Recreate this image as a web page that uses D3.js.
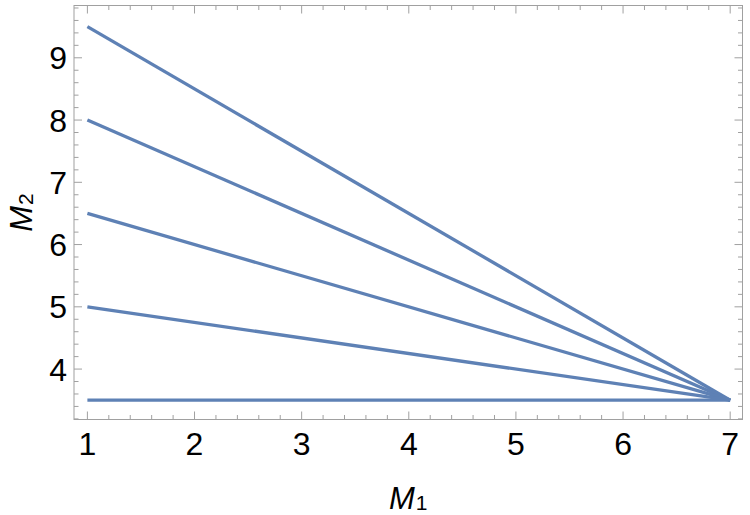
<!DOCTYPE html>
<html><head><meta charset="utf-8">
<script src="https://cdn.jsdelivr.net/npm/d3@7"></script>
<style>body{margin:0;background:#fff}svg{display:block}</style>
</head><body>
<svg id="c" width="750" height="515"></svg>
<script>
// Data
const startM2 = [9.5, 8, 6.5, 5, 3.5];
const startM1 = 1;
const endM1 = 7;
const endM2 = 3.5;
const xTicks = [1, 2, 3, 4, 5, 6, 7];
const yTicks = [4, 5, 6, 7, 8, 9];

const L = 74, R = 742.5, T = 5.5, B = 419.5;
const svg = d3.select("#c");
const x = d3.scaleLinear().domain([0.875, 7.115]).range([L, R]);
const y = d3.scaleLinear().domain([3.19, 9.84]).range([B, T]);

const frameCol = "#a0a0a0";
const font = "'Liberation Sans', Arial, sans-serif";

const xMinor = d3.range(0.8, 7.3, 0.2).map(v => +v.toFixed(2)).filter(v => v >= x.domain()[0] && v <= x.domain()[1] && Math.abs(v - Math.round(v)) > 1e-6);
const yMinor = d3.range(3.2, 9.9, 0.2).map(v => +v.toFixed(2)).filter(v => v >= y.domain()[0] && v <= y.domain()[1] && Math.abs(v - Math.round(v)) > 1e-6);

const g = svg.append("g");
const line = d3.line().x(d => x(d[0])).y(d => y(d[1]));
g.selectAll("path.s").data(startM2).join("path")
  .attr("class", "s")
  .attr("d", v => line([[startM1, v], [endM1, endM2]]))
  .attr("fill", "none").attr("stroke", "#5E81B5").attr("stroke-width", 3.3)
  .attr("stroke-linecap", "butt");

const tk = svg.append("g").attr("stroke", frameCol).attr("stroke-width", 1);
function xt(vals, len) {
  vals.forEach(v => {
    tk.append("line").attr("x1", x(v)).attr("x2", x(v)).attr("y1", B).attr("y2", B - len);
    tk.append("line").attr("x1", x(v)).attr("x2", x(v)).attr("y1", T).attr("y2", T + len);
  });
}
function yt(vals, len) {
  vals.forEach(v => {
    tk.append("line").attr("y1", y(v)).attr("y2", y(v)).attr("x1", L).attr("x2", L + len);
    tk.append("line").attr("y1", y(v)).attr("y2", y(v)).attr("x1", R).attr("x2", R - len);
  });
}
xt(xTicks, 8); xt(xMinor, 4.5);
yt(yTicks, 8); yt(yMinor, 4.5);

svg.append("rect").attr("x", L).attr("y", T).attr("width", R - L).attr("height", B - T)
  .attr("fill", "none").attr("stroke", frameCol).attr("stroke-width", 1);

svg.append("g").selectAll("text").data(xTicks).join("text")
  .attr("x", d => x(d)).attr("y", 455).attr("text-anchor", "middle")
  .attr("font-family", font).attr("font-size", 32).attr("fill", "#000").text(d => d);
svg.append("g").selectAll("text").data(yTicks).join("text")
  .attr("x", 67).attr("y", d => y(d) + 11.5).attr("text-anchor", "end")
  .attr("font-family", font).attr("font-size", 32).attr("fill", "#000").text(d => d);

const xl = svg.append("text").attr("x", (L + R) / 2).attr("y", 509).attr("text-anchor", "middle")
  .attr("font-family", font).attr("font-size", 31).attr("fill", "#000");
xl.append("tspan").attr("font-style", "italic").text("M");
xl.append("tspan").attr("font-size", 21).attr("dx", 1).attr("dy", 1).text("1");

const yl = svg.append("text").attr("transform", `translate(32,${(T + B) / 2}) rotate(-90)`)
  .attr("text-anchor", "middle")
  .attr("font-family", font).attr("font-size", 31).attr("fill", "#000");
yl.append("tspan").attr("font-style", "italic").text("M");
yl.append("tspan").attr("font-size", 21).attr("dx", 1).attr("dy", 1).text("2");
</script>
</body></html>
